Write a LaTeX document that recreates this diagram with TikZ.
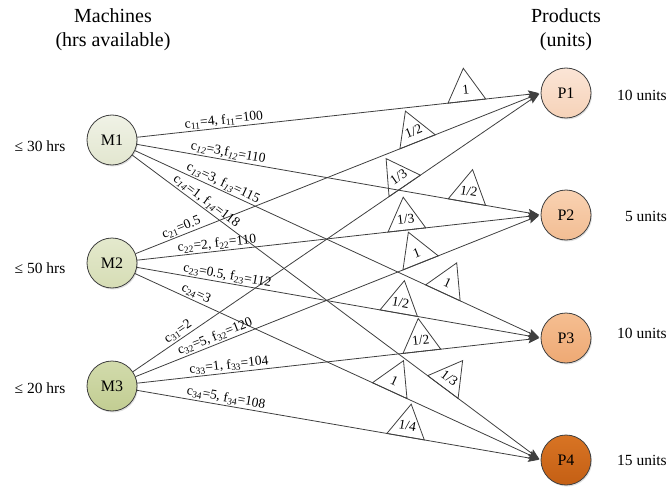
\documentclass[tikz,border=0pt]{standalone}
\usepackage{fontspec}
\setmainfont{Liberation Serif}
\usetikzlibrary{calc,arrows.meta,shadows}

\definecolor{linec}{HTML}{3F3F3F}
\definecolor{m1t}{HTML}{F0F2E6}\definecolor{m1b}{HTML}{E2E6CF}
\definecolor{m2t}{HTML}{E4E9CD}\definecolor{m2b}{HTML}{D6DDB5}
\definecolor{m3t}{HTML}{D2DBAC}\definecolor{m3b}{HTML}{C2CD92}
\definecolor{p1t}{HTML}{FBE5D6}\definecolor{p1b}{HTML}{F6D2B8}
\definecolor{p2t}{HTML}{F9D2B2}\definecolor{p2b}{HTML}{F2BD93}
\definecolor{p3t}{HTML}{F5BE91}\definecolor{p3b}{HTML}{EEA974}
\definecolor{p4t}{HTML}{D87424}\definecolor{p4b}{HTML}{C45F14}

\newcommand\ix[1]{\textsubscript{#1}}
\newcommand\ixi[1]{\textsubscript{\textit{#1}}}

% gain triangle standing on the edge #1 -> #2 at fraction #3, labelled #4
\newcommand\gaintri[4]{%
  \coordinate (gm) at ($(#1)!#3!(#2)$);
  \draw[gain] ($(gm)!19pt!(#1)$) -- ($(gm)!33pt!90:(#2)$) -- ($(gm)!19pt!(#2)$) -- cycle;
  \path let \p1=($(#2)-(#1)$), \n1={atan2(\y1,\x1)} in
    node[gainlab, rotate=\n1] at ($(gm)!11pt!90:(#2)$) {#4};
}

\tikzset{
  vertex/.style={circle, draw=linec, line width=0.8pt, minimum size=50pt, inner sep=0pt,
    font=\fontsize{16}{18}\selectfont,
    drop shadow={opacity=0.25, shadow xshift=1pt, shadow yshift=-1.5pt}},
  flow/.style={draw=linec, line width=0.8pt, -{Stealth[length=11pt,width=8pt,inset=2pt]}, shorten >=1.5pt},
  elab/.style={sloped, above, inner sep=1.5pt, font=\fontsize{13.5}{15}\selectfont},
  gain/.style={draw=linec, line width=0.8pt, line join=miter},
  gainlab/.style={inner sep=0pt, font=\fontsize{13.5}{15}\selectfont},
  head/.style={align=center, font=\fontsize{20}{24}\selectfont},
  side/.style={font=\fontsize{15.5}{18}\selectfont}
}

\begin{document}
\begin{tikzpicture}[x=1pt, y=-1pt]
\useasboundingbox (0,0) rectangle (670,487);

% column headings
\node[head] (hm) at (113,30) {Machines\\(hrs available)};
\node[head] (hp) at (566,30) {Products\\(units)};

% machines
\node[vertex, top color=m1t, bottom color=m1b] (M1) at (112,140) {M1};
\node[vertex, top color=m2t, bottom color=m2b] (M2) at (112,263) {M2};
\node[vertex, top color=m3t, bottom color=m3b] (M3) at (112,386) {M3};

% products
\node[vertex, top color=p1t, bottom color=p1b] (P1) at (566,93) {P1};
\node[vertex, top color=p2t, bottom color=p2b] (P2) at (566,215) {P2};
\node[vertex, top color=p3t, bottom color=p3b] (P3) at (566,338) {P3};
\node[vertex, top color=p4t, bottom color=p4b] (P4) at (566,460) {P4};

% capacities and demands
\node[side] (h1) at (40,146) {≤ 30 hrs};
\node[side] (h2) at (40,268) {≤ 50 hrs};
\node[side] (h3) at (40,388) {≤ 20 hrs};
\node[side] (d1) at (642,95) {10 units};
\node[side] (d2) at (646,216) {5 units};
\node[side] (d3) at (642,333) {10 units};
\node[side] (d4) at (642,460) {15 units};

% arcs
\foreach \m in {1,2,3}
  \foreach \p in {1,2,3,4}
    \draw[flow] (M\m) -- (P\p.west);

% costs
\path (M1.center) -- (P1.west) node[elab, pos=0.263] {c\ix{11}=4, f\ix{11}=100};
\path (M1.center) -- (P2.west) node[elab, pos=0.268] {c\ixi{12}=3,f\ixi{12}=110};
\path (M1.center) -- (P3.west) node[elab, pos=0.252] {c\ixi{13}=3, f\ixi{13}=115};
\path (M1.center) -- (P4.west) node[elab, pos=0.210] {c\ixi{14}=1, f\ixi{14}=118};
\path (M2.center) -- (P1.west) node[elab, pos=0.168] {c\ix{21}=0.5};
\path (M2.center) -- (P2.west) node[elab, pos=0.247] {c\ix{22}=2, f\ix{22}=110};
\path (M2.center) -- (P3.west) node[elab, pos=0.266] {c\ix{23}=0.5, f\ix{23}=112};
\path (M2.center) -- (P4.west) node[elab, pos=0.189] {c\ix{24}=3};
\path (M3.center) -- (P1.west) node[elab, pos=0.164] {c\ix{31}=2};
\path (M3.center) -- (P2.west) node[elab, pos=0.247] {c\ix{32}=5, f\ix{32}=120};
\path (M3.center) -- (P3.west) node[elab, pos=0.275] {c\ix{33}=1, f\ix{33}=104};
\path (M3.center) -- (P4.west) node[elab, pos=0.263] {c\ix{34}=5, f\ix{34}=108};

% gains
\gaintri{M1}{P1.west}{0.828}{1}
\gaintri{M2}{P1.west}{0.713}{1/2}
\gaintri{M3}{P1.west}{0.683}{1/3}
\gaintri{M1}{P2.west}{0.828}{1/2}
\gaintri{M2}{P2.west}{0.688}{1/3}
\gaintri{M3}{P2.west}{0.720}{1}
\gaintri{M1}{P3.west}{0.772}{1}
\gaintri{M2}{P3.west}{0.669}{1/2}
\gaintri{M3}{P3.west}{0.723}{1/2}
\gaintri{M2}{P4.west}{0.648}{1}
\gaintri{M1}{P4.west}{0.772}{1/3}
\gaintri{M3}{P4.west}{0.685}{1/4}
\end{tikzpicture}
\end{document}
